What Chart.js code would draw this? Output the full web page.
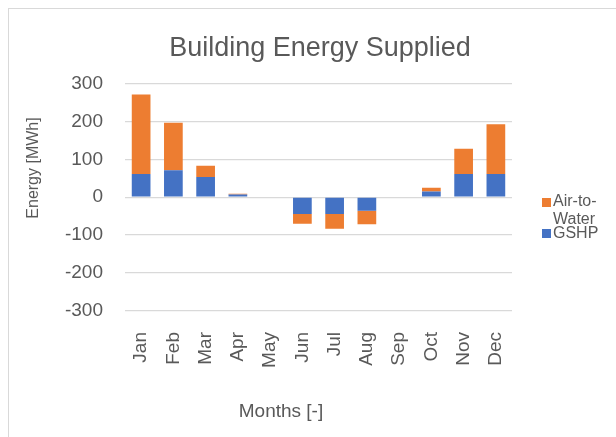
<!DOCTYPE html>
<html>
<head>
<meta charset="utf-8">
<script src="https://cdn.jsdelivr.net/npm/chart.js@4.4.1/dist/chart.umd.min.js"></script>
<style>
    body { margin: 0; background: #fff; font-family: "Liberation Sans", Arial, sans-serif; }
    #wrap { position: relative; width: 616px; height: 437px; overflow: hidden; }
    #frame { position: absolute; left: 8px; top: 8px; width: 700px; height: 500px; border: 1.5px solid #d9d9d9; }
    canvas { position: absolute; left: 0; top: 0; }
    .txt { position: absolute; color: #595959; white-space: nowrap; font-weight: normal; }
    #yTitle { font-size: 16px; line-height: 18px; width: 120px; height: 18px; text-align: center;
              left: -27px; top: 159px; transform: rotate(-90deg); }
    #xTitle { font-size: 19px; line-height: 22px; width: 120px; text-align: center; left: 221px; top: 400px; }
    .legendBox { position: absolute; width: 9px; height: 9px; }
    .legendTxt { font-size: 16px; line-height: 18px; }
</style>
</head>
<body>
<div id="wrap">
    <div id="frame"></div>
    <canvas id="energyChart" width="616" height="437"></canvas>
    <div class="txt" id="yTitle">Energy [MWh]</div>
    <div class="txt" id="xTitle">Months [-]</div>
    <div class="legendBox" style="left:542px; top:198px; background:#ED7D31;"></div>
    <div class="txt legendTxt" style="left:553px; top:192px;">Air-to-<br>Water</div>
    <div class="legendBox" style="left:542px; top:229px; background:#4472C4;"></div>
    <div class="txt legendTxt" style="left:553px; top:224px;">GSHP</div>
</div>
<script>
// Values (MWh)
const months = ["Jan", "Feb", "Mar", "Apr", "May", "Jun", "Jul", "Aug", "Sep", "Oct", "Nov", "Dec"];
const gshpData = [61, 71, 53, 7, 0, -44, -44, -36, 0, 15, 61, 61];
const airToWaterData = [210, 125, 30, 2, 0, -26, -39, -35, 0, 10, 67, 131];
const yTicks = [-300, -200, -100, 0, 100, 200, 300];

const textColor = "#595959";
const gridColor = "#d9d9d9";

const ctx = document.getElementById("energyChart").getContext("2d");

new Chart(ctx, {
    type: "bar",
    data: {
        labels: months,
        datasets: [
            {
                label: "GSHP",
                data: gshpData,
                backgroundColor: "#4472C4",
                stack: "energy",
            },
            {
                label: "Air-to-Water",
                data: airToWaterData,
                backgroundColor: "#ED7D31",
                stack: "energy",
            },
        ],
    },
    options: {
        responsive: false,
        animation: false,
        layout: {
            padding: { left: 24, right: 0, top: 0, bottom: 0 },
        },
        datasets: {
            bar: { categoryPercentage: 1, barPercentage: 0.58 },
        },
        plugins: {
            legend: { display: false },
            tooltip: { enabled: false },
            title: {
                display: true,
                text: "Building Energy Supplied",
                color: textColor,
                font: { family: "Liberation Sans", size: 27, weight: "normal" },
                padding: { top: 32, bottom: 19 },
            },
        },
        scales: {
            x: {
                stacked: true,
                grid: { display: false },
                border: { display: false },
                ticks: {
                    color: textColor,
                    font: { family: "Liberation Sans", size: 19 },
                    minRotation: 90,
                    maxRotation: 90,
                    padding: 13,
                },
                afterFit: (scale) => { scale.height = 126; },
            },
            y: {
                stacked: true,
                min: yTicks[0],
                max: yTicks[yTicks.length - 1],
                afterBuildTicks: (scale) => { scale.ticks = yTicks.map(v => ({ value: v })); },
                grid: { color: gridColor, lineWidth: 1.3, drawTicks: false },
                border: { display: false },
                ticks: {
                    color: textColor,
                    font: { family: "Liberation Sans", size: 19 },
                    padding: 22,
                },
                afterFit: (scale) => { scale.width = 101; },
            },
            // empty axis that reserves the legend space on the right
            yRight: {
                position: "right",
                grid: { display: false },
                border: { display: false },
                ticks: { display: false },
                afterFit: (scale) => { scale.width = 104; },
            },
        },
    },
});
</script>
</body>
</html>
